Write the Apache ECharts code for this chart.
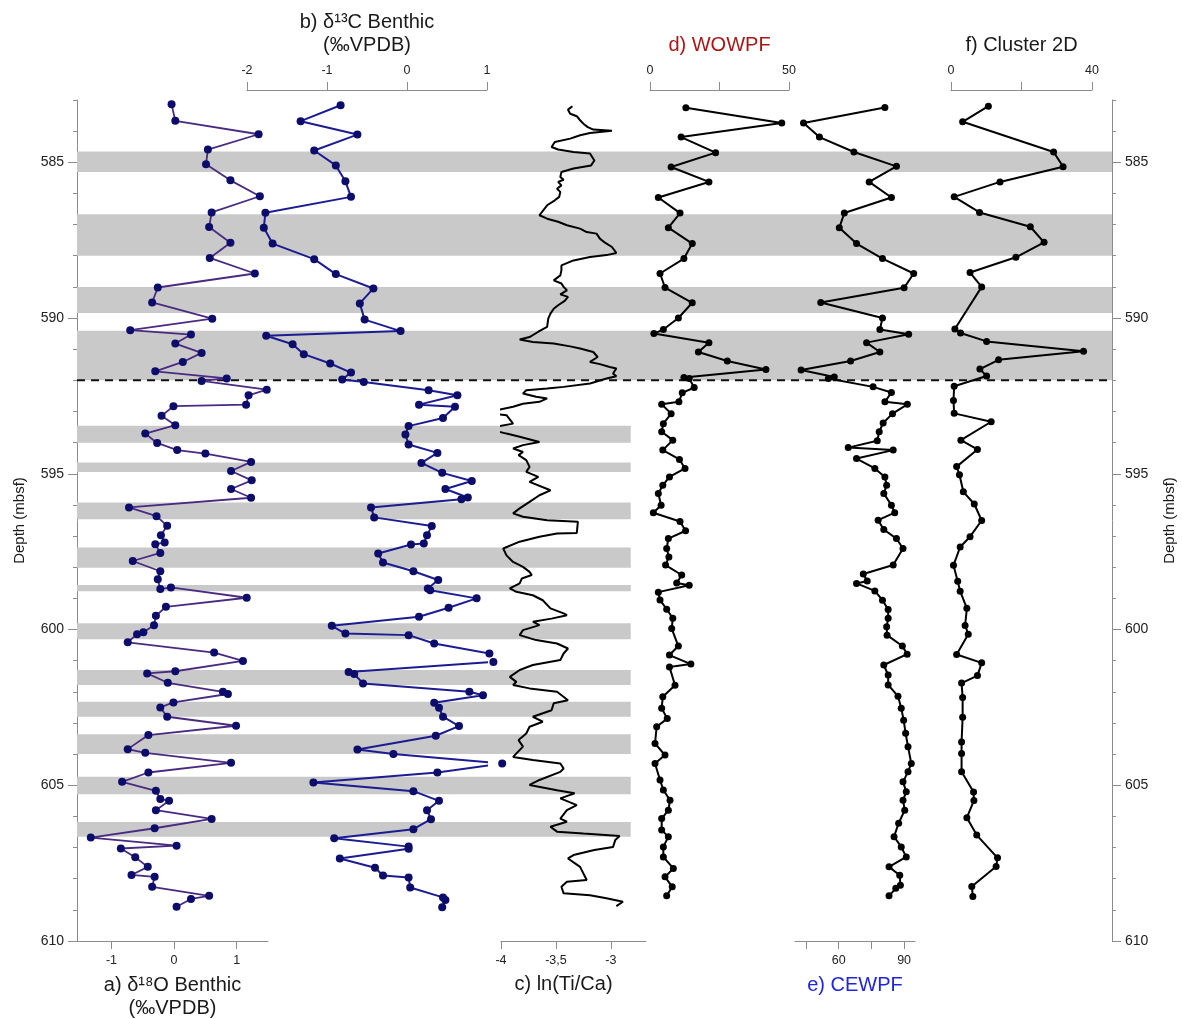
<!DOCTYPE html>
<html><head><meta charset="utf-8">
<script src="https://cdn.jsdelivr.net/npm/echarts@6/dist/echarts.min.js"></script>
<style>html,body{margin:0;padding:0;background:#fff}#c{width:1182px;height:1019px}</style>
</head><body><div id="c"></div>
<script>
// ---------------- DATA ----------------
const depthLabels = [585, 590, 595, 600, 605, 610];
const boundaryDepth = 592;
const upperBands = [[584.65,585.31],[586.67,588.0],[589.0,589.84],[590.41,592.0]];
const lowerBands = [[593.46,594.0],[594.64,594.94],[595.92,596.46],[597.37,598.02],[598.57,598.77],[599.80,600.31],[601.30,601.78],[602.32,602.80],[603.36,604.0],[604.73,605.29],[606.18,606.65]];

const d18ODepth = [583.14,583.67,584.10,584.59,585.06,585.58,586.09,586.61,587.08,587.58,
588.07,588.57,589.02,589.50,590.02,590.39,590.53,590.82,591.12,591.41,
591.71,591.94,592.02,592.30,592.48,592.78,592.83,593.14,593.44,593.71,
594.01,594.24,594.35,594.62,594.91,595.21,595.49,595.77,596.08,596.36,
596.67,596.97,597.21,597.26,597.54,597.80,598.13,598.39,598.70,598.65,
598.98,599.27,599.56,599.86,600.09,600.15,600.41,600.74,601.01,601.34,
601.41,601.71,602.00,602.07,602.34,602.50,602.80,603.09,603.39,603.84,
603.96,604.28,604.59,604.89,605.18,605.44,605.50,605.80,606.08,606.38,
606.68,606.94,607.03,607.31,607.62,607.88,607.94,608.26,608.55,608.65,608.90];
const d18OValue = [-0.04,0.02,1.35,0.54,0.51,0.90,1.37,0.60,0.56,0.90,
0.57,1.29,-0.26,-0.35,0.61,-0.70,0.27,0.02,0.44,0.14,
-0.30,0.84,0.44,1.48,1.19,1.15,-0.01,-0.20,0.02,-0.46,
-0.27,0.05,0.50,1.23,0.91,1.24,0.91,1.23,-0.72,-0.28,
-0.11,-0.21,-0.15,-0.30,-0.22,-0.66,-0.22,-0.26,-0.22,-0.05,
1.16,-0.13,-0.29,-0.32,-0.49,-0.59,-0.74,0.64,1.10,0.02,
-0.43,-0.10,0.78,0.86,-0.01,-0.22,-0.11,0.99,-0.41,-0.74,
-0.46,0.91,-0.41,-0.83,-0.29,-0.22,-0.08,-0.29,0.60,-0.31,
-1.33,0.04,-0.85,-0.62,-0.42,-0.68,-0.31,-0.35,0.56,0.27,0.04];

const d13CDepth = [583.17,583.68,584.11,584.62,585.10,585.61,586.11,586.62,587.10,587.61,
588.11,588.59,589.05,589.53,590.05,590.42,590.57,590.84,591.16,591.46,
591.75,591.97,592.05,592.32,592.48,592.78,592.85,593.21,593.47,593.74,
594.06,594.33,594.65,594.97,595.23,595.49,595.76,595.82,596.08,596.40,
596.68,596.97,597.24,597.27,597.56,597.85,598.13,598.41,598.68,598.74,
599.00,599.30,599.59,599.88,600.13,600.18,600.45,600.77,601.04,601.36,
601.43,601.73,602.00,602.11,602.35,602.51,602.80,603.10,603.41,603.85,
604.00,604.30,604.59,604.91,605.19,605.50,605.80,606.09,606.41,606.70,
606.97,607.04,607.35,607.65,607.90,607.96,608.28,608.60,608.68,608.92];
const d13CValue = [-0.83,-1.33,-0.62,-1.16,-0.89,-0.77,-0.70,-1.77,-1.79,-1.68,
-1.16,-0.89,-0.42,-0.59,-0.53,-0.08,-1.76,-1.43,-1.29,-0.96,
-0.70,-0.81,-0.54,0.27,0.63,0.15,0.60,0.45,0.02,-0.02,
0.02,0.38,0.18,0.44,0.81,0.48,0.76,0.68,-0.45,-0.41,
0.31,0.25,0.21,0.05,-0.36,-0.30,0.08,0.39,0.26,0.29,
0.87,0.52,0.15,-0.94,-0.77,0.02,0.34,1.03,1.08,-0.73,
-0.66,-0.55,0.78,0.95,0.34,0.40,0.45,0.65,0.36,-0.62,
-0.17,1.19,0.38,-1.17,0.08,0.40,0.25,0.30,0.08,-0.91,
0.02,0.02,-0.84,-0.40,-0.30,0.02,0.04,0.45,0.48,0.44];

const tiCaDepth = [583.20,583.31,583.44,583.52,583.65,583.76,583.87,583.95,583.99,584.06,
584.13,584.24,584.35,584.51,584.59,584.67,584.72,584.94,585.10,585.20,
585.31,585.47,585.56,585.63,585.74,585.85,585.95,586.11,586.22,586.38,
586.70,586.81,586.91,587.02,587.13,587.24,587.29,587.45,587.59,587.72,
587.91,587.98,588.04,588.15,588.31,588.47,588.63,588.79,588.89,589.00,
589.11,589.24,589.32,589.45,589.59,589.70,589.86,590.02,590.28,590.44,
590.61,590.69,590.77,590.82,590.91,590.98,591.09,591.25,591.41,591.48,
591.57,591.62,591.78,591.87,591.94,592.10,592.21,592.26,592.32,592.42,
592.53,592.58,592.69,592.75,592.85,592.94,592.98,593.07,593.12,593.39,
593.49,593.60,593.71,593.81,593.98,594.08,594.19,594.30,594.40,594.56,
594.78,594.94,595.10,595.26,595.53,595.69,595.90,596.11,596.27,596.38,
596.49,596.54,596.59,596.90,596.92,597.02,597.18,597.40,597.62,597.83,
597.99,598.15,598.25,598.36,598.52,598.68,598.79,598.90,599.06,599.32,
599.48,599.54,599.65,599.75,599.86,600.02,600.18,600.34,600.45,600.61,
600.77,600.98,601.14,601.30,601.52,601.68,601.78,601.89,602.00,602.27,
602.37,602.59,602.80,602.96,603.12,603.34,603.55,603.76,604.09,604.19,
604.30,604.46,604.57,604.83,604.99,605.16,605.26,605.42,605.64,605.80,
606.07,606.17,606.33,606.49,606.55,606.63,606.76,606.98,607.08,607.24,
607.35,607.62,608.04,608.10,608.26,608.47,608.53,608.63,608.74,608.88];
const tiCaValue = [-3.35,-3.39,-3.37,-3.31,-3.28,-3.25,-3.21,-3.16,-2.99,-3.19,
-3.28,-3.37,-3.51,-3.54,-3.48,-3.34,-3.19,-3.15,-3.18,-3.34,
-3.45,-3.46,-3.43,-3.48,-3.45,-3.49,-3.46,-3.47,-3.51,-3.58,
-3.65,-3.58,-3.48,-3.40,-3.28,-3.22,-3.13,-3.10,-3.05,-2.99,
-2.95,-3.04,-3.19,-3.34,-3.45,-3.45,-3.46,-3.52,-3.45,-3.43,
-3.40,-3.46,-3.39,-3.42,-3.48,-3.52,-3.55,-3.57,-3.58,-3.66,
-3.74,-3.83,-3.71,-3.52,-3.37,-3.28,-3.16,-3.12,-3.19,-3.10,
-3.01,-2.95,-2.98,-2.95,-3.04,-3.19,-3.43,-3.58,-3.77,-3.80,
-3.68,-3.58,-3.65,-3.80,-3.89,-4.01,-4.16,-4.07,-3.95,-3.89,
-4.04,-4.07,-3.95,-3.83,-3.65,-3.80,-3.89,-3.80,-3.84,-3.77,
-3.74,-3.77,-3.66,-3.74,-3.55,-3.65,-3.74,-3.83,-3.89,-3.80,
-3.58,-3.30,-3.29,-3.31,-3.49,-3.65,-3.83,-3.98,-3.95,-3.89,
-3.80,-3.74,-3.72,-3.81,-3.83,-3.92,-3.86,-3.71,-3.62,-3.55,
-3.43,-3.40,-3.54,-3.71,-3.65,-3.80,-3.83,-3.68,-3.49,-3.39,
-3.43,-3.46,-3.71,-3.83,-3.92,-3.86,-3.89,-3.74,-3.49,-3.39,
-3.52,-3.54,-3.71,-3.62,-3.74,-3.77,-3.84,-3.80,-3.89,-3.71,
-3.46,-3.43,-3.46,-3.65,-3.74,-3.49,-3.33,-3.46,-3.31,-3.40,
-3.46,-3.40,-3.55,-3.49,-3.25,-2.92,-2.96,-2.98,-3.15,-3.34,
-3.39,-3.28,-3.22,-3.40,-3.45,-3.43,-3.19,-3.04,-2.89,-2.95];

const wowpfDepth = [583.25,583.74,584.19,584.69,585.15,585.63,586.13,586.63,587.10,587.61,
588.09,588.57,589.02,589.51,590.00,590.37,590.50,590.79,591.09,591.38,591.65,591.91,591.94,
592.23,592.40,592.69,592.77,593.07,593.39,593.65,593.92,594.24,594.54,594.83,595.10,595.37,595.63,596.01,
596.25,596.53,596.83,597.08,597.40,597.67,597.93,598.25,598.51,598.58,
598.80,599.05,599.35,599.64,599.97,600.53,600.82,601.11,601.20,601.79,
602.16,602.53,602.86,603.12,603.66,604.03,604.30,604.83,605.15,605.48,
605.80,606.07,606.44,606.65,606.98,607.30,607.67,607.94,608.26,608.55];
const wowpfValue = [12.9,47.4,11.2,23.6,7.6,21.2,3.0,10.8,6.6,15.2,
12.2,3.6,5.4,15.2,10.2,4.8,1.4,21.2,17.4,27.8,41.7,12.2,14.1,
15.9,11.6,10.4,4.2,7.6,4.8,4.2,8.2,4.6,10.6,12.6,7.0,4.6,3.0,4.0,
1.2,10.8,12.8,6.6,6.0,6.8,5.6,11.4,9.6,14.1,
3.0,3.6,6.0,8.2,7.8,10.2,7.0,14.7,7.0,9.0,
4.6,4.2,6.2,2.4,1.8,5.4,1.8,3.6,4.8,7.2,
6.6,4.2,4.2,6.6,4.8,4.8,8.4,5.4,8.0,6.0];

const cewpfDepth = [583.24,583.74,584.19,584.67,585.13,585.63,586.13,586.63,587.10,587.61,
588.09,588.57,589.03,589.50,590.00,590.37,590.52,590.79,591.09,591.38,591.67,591.89,591.94,
592.21,592.39,592.69,592.77,593.07,593.37,593.65,593.94,594.16,594.24,594.51,594.83,595.10,595.37,595.63,596.01,
596.25,596.49,596.79,597.08,597.40,597.93,598.22,598.44,598.52,598.76,
599.06,599.36,599.64,599.91,600.18,600.53,600.79,601.14,601.46,601.78,
602.14,602.53,602.91,603.33,603.76,604.30,604.57,604.89,605.21,605.48,
605.80,606.22,606.65,606.98,607.30,607.62,607.89,608.21,608.31,608.55];
const cewpfValue = [81.2,43.9,51.2,67.0,86.5,74.0,84.2,62.6,60.3,68.2,
80.1,94.4,90.0,51.8,80.1,78.9,92.1,72.8,78.9,65.5,42.8,58.0,55.3,
75.8,84.2,81.2,91.5,84.7,80.4,78.6,77.7,64.4,85.0,68.2,76.6,81.2,82.0,80.7,84.2,
85.7,78.1,80.7,86.5,89.5,85.0,71.3,73.1,68.2,76.6,
80.1,82.7,82.7,82.0,82.2,89.2,91.4,80.7,82.7,82.7,
87.2,88.7,89.8,90.7,91.8,93.3,91.8,89.5,91.0,89.5,
90.3,87.5,85.4,88.7,91.0,83.1,88.0,88.3,86.2,83.1];

const clusterDepth = [583.20,583.70,584.67,585.14,585.63,586.11,586.61,587.07,587.57,588.05,
588.54,589.00,590.35,590.48,590.75,591.07,591.34,591.64,591.86,592.19,
592.65,593.06,593.33,593.92,594.22,594.77,595.03,595.58,595.97,596.50,
597.02,597.35,597.94,598.45,598.77,599.32,599.87,600.15,600.80,601.07,
601.48,601.72,602.18,602.82,603.61,603.98,604.57,605.22,605.49,606.04,
606.60,607.33,607.61,608.25,608.57];
const clusterValue = [10.6,3.3,29.1,31.8,13.9,0.9,8.1,22.5,26.4,18.4,
5.4,8.7,1.1,2.7,10.1,37.6,13.5,8.2,10.1,0.9,
0.7,0.9,11.4,2.8,7.5,1.6,2.4,3.5,6.6,8.7,
5.4,2.6,0.7,1.9,2.6,4.5,4.0,4.9,1.6,8.7,
7.5,3.0,3.3,3.3,3.0,3.0,3.0,6.4,6.5,4.5,
7.3,13.2,12.8,5.9,6.2];

// tick labels
const d18OTicks = [-1, 0, 1];
const d13CTicks = [-2, -1, 0, 1];
const tiCaTicks = [-4, -3.5, -3];
const wowpfTicks = [0, 25, 50], wowpfLabels = [0, 50];
const cewpfTicks = [45, 60, 75, 90], cewpfLabels = [60, 90];
const clusterTicks = [0, 20, 40], clusterLabels = [0, 40];

// ---------------- LAYOUT ----------------
const FONT = 'Liberation Sans, Arial, Helvetica, sans-serif';
const AX = '#8c8c8c';
const TOP = 100, BOTTOM = 78;
const TOP_AXIS_OFFSET = 10;
const LOWER_BAND_END = 0.535; // fraction of frame width covered by lower bands (panels a-c)
const zip = (v, d) => v.map((x, i) => [x, d[i]]);

const chart = echarts.init(document.getElementById('c'), null, {renderer: 'canvas'});

function grid(left, right) {
  return {left, right, top: TOP, bottom: BOTTOM, containLabel: false, outerBoundsMode: 'none'};
}
function xAx(gi, pos, min, max, ticks, labels, name, nameColor, fmt, extra) {
  return Object.assign({
    gridIndex: gi, type: 'value', position: pos, min, max,
    offset: pos === 'top' ? TOP_AXIS_OFFSET : 0,
    axisLine: {show: true, onZero: false, lineStyle: {color: AX, width: 1}},
    axisTick: {show: true, customValues: ticks, length: 8, lineStyle: {color: AX}},
    axisLabel: {show: true, customValues: labels, fontSize: 12.5, margin: 13, color: '#222', fontFamily: FONT,
                formatter: fmt || (v => String(v))},
    splitLine: {show: false},
    name, nameLocation: 'middle', nameGap: 33,
    nameTextStyle: {fontSize: 20, lineHeight: 23, color: nameColor || '#1a1a1a', fontFamily: FONT}
  }, extra || {});
}
function hiddenY(gi) {
  return {gridIndex: gi, type: 'value', min: 583, max: 610, inverse: true, show: false};
}
function depthAxis(pos, major) {
  if (major) {
    return {gridIndex: 0, type: 'value', min: 583, max: 610, inverse: true, position: pos,
      axisLine: {show: true, lineStyle: {color: AX, width: 1}},
      axisTick: {show: true, customValues: depthLabels, length: 9, lineStyle: {color: AX}},
      axisLabel: {show: true, customValues: depthLabels, fontSize: 14, margin: 13, color: '#222', fontFamily: FONT},
      splitLine: {show: false},
      name: 'Depth (mbsf)', nameLocation: 'middle', nameRotate: 90, nameGap: 50,
      nameTextStyle: {fontSize: 15, color: '#1a1a1a', fontFamily: FONT}};
  }
  return {gridIndex: 0, type: 'value', min: 583, max: 610, interval: 1, inverse: true, position: pos,
    axisLine: {show: false}, axisTick: {show: true, length: 4, lineStyle: {color: AX}},
    axisLabel: {show: false}, splitLine: {show: false}};
}

const bandData = upperBands.map(b => [b[0], b[1], 1]).concat(lowerBands.map(b => [b[0], b[1], LOWER_BAND_END]));

function pointSeries(name, xi, yi, data, lineColor, dotColor, size, width) {
  return {name, type: 'line', xAxisIndex: xi, yAxisIndex: yi, data, clip: false, z: 4,
    symbol: 'circle', symbolSize: size, showAllSymbol: true,
    itemStyle: {color: dotColor}, lineStyle: {color: lineColor, width}};
}

const option = {
  animation: false,
  backgroundColor: '#fff',
  textStyle: {fontFamily: FONT},
  grid: [grid(77, 70), grid(77, 914), grid(247, 695), grid(501, 536), grid(650, 393), grid(795, 267), grid(951, 90)],
  xAxis: [
    {gridIndex: 0, type: 'value', min: 0, max: 1, show: false},
    xAx(1, 'bottom', -1.55, 1.5, d18OTicks, d18OTicks, 'a) δ¹⁸O Benthic\n(‰VPDB)'),
    xAx(2, 'top', -2, 1, d13CTicks, d13CTicks, 'b) δ¹³C Benthic\n(‰VPDB)'),
    xAx(3, 'bottom', -4, -2.68, tiCaTicks, tiCaTicks, 'c) ln(Ti/Ca)', null, v => String(v).replace('.', ','),
        {nameTextStyle: {fontSize: 20, color: '#1a1a1a', fontFamily: FONT, padding: [0, 20, 0, 0]}}),
    xAx(4, 'top', 0, 50, wowpfTicks, wowpfLabels, 'd) WOWPF', '#a81818'),
    xAx(5, 'bottom', 40, 95, cewpfTicks, cewpfLabels, 'e) CEWPF', '#1f24e0'),
    xAx(6, 'top', 0, 40, clusterTicks, clusterLabels, 'f) Cluster 2D')
  ],
  yAxis: [
    depthAxis('left', true), depthAxis('left', false), depthAxis('right', true), depthAxis('right', false),
    hiddenY(1), hiddenY(2), hiddenY(3), hiddenY(4), hiddenY(5), hiddenY(6)
  ],
  series: [
    {type: 'custom', xAxisIndex: 0, yAxisIndex: 0, z: 1, silent: true, data: bandData,
      renderItem: (params, api) => {
        const p1 = api.coord([0, api.value(0)]);
        const p2 = api.coord([api.value(2), api.value(1)]);
        return {type: 'rect', shape: {x: p1[0], y: p1[1], width: p2[0] - p1[0], height: p2[1] - p1[1]},
                style: {fill: '#c9c9c9'}};
      }},
    {type: 'line', xAxisIndex: 0, yAxisIndex: 0, z: 3, silent: true, symbol: 'none',
      data: [[0, boundaryDepth], [1, boundaryDepth]],
      lineStyle: {color: '#111', width: 2, type: [8, 6]}},
    pointSeries('d18O', 1, 4, zip(d18OValue, d18ODepth), '#4a2a80', '#0c0c6a', 8, 1.8),
    pointSeries('d13C', 2, 5, zip(d13CValue, d13CDepth), '#1c1c92', '#0c0c6a', 8, 2),
    {name: 'TiCa', type: 'line', xAxisIndex: 3, yAxisIndex: 6, data: zip(tiCaValue, tiCaDepth), clip: false, z: 4,
      symbol: 'none', lineStyle: {color: '#000', width: 2}},
    pointSeries('WOWPF', 4, 7, zip(wowpfValue, wowpfDepth), '#000', '#000', 7, 2),
    pointSeries('CEWPF', 5, 8, zip(cewpfValue, cewpfDepth), '#000', '#000', 7, 2),
    pointSeries('Cluster', 6, 9, zip(clusterValue, clusterDepth), '#000', '#000', 7, 2)
  ]
};
chart.setOption(option);
</script></body></html>
